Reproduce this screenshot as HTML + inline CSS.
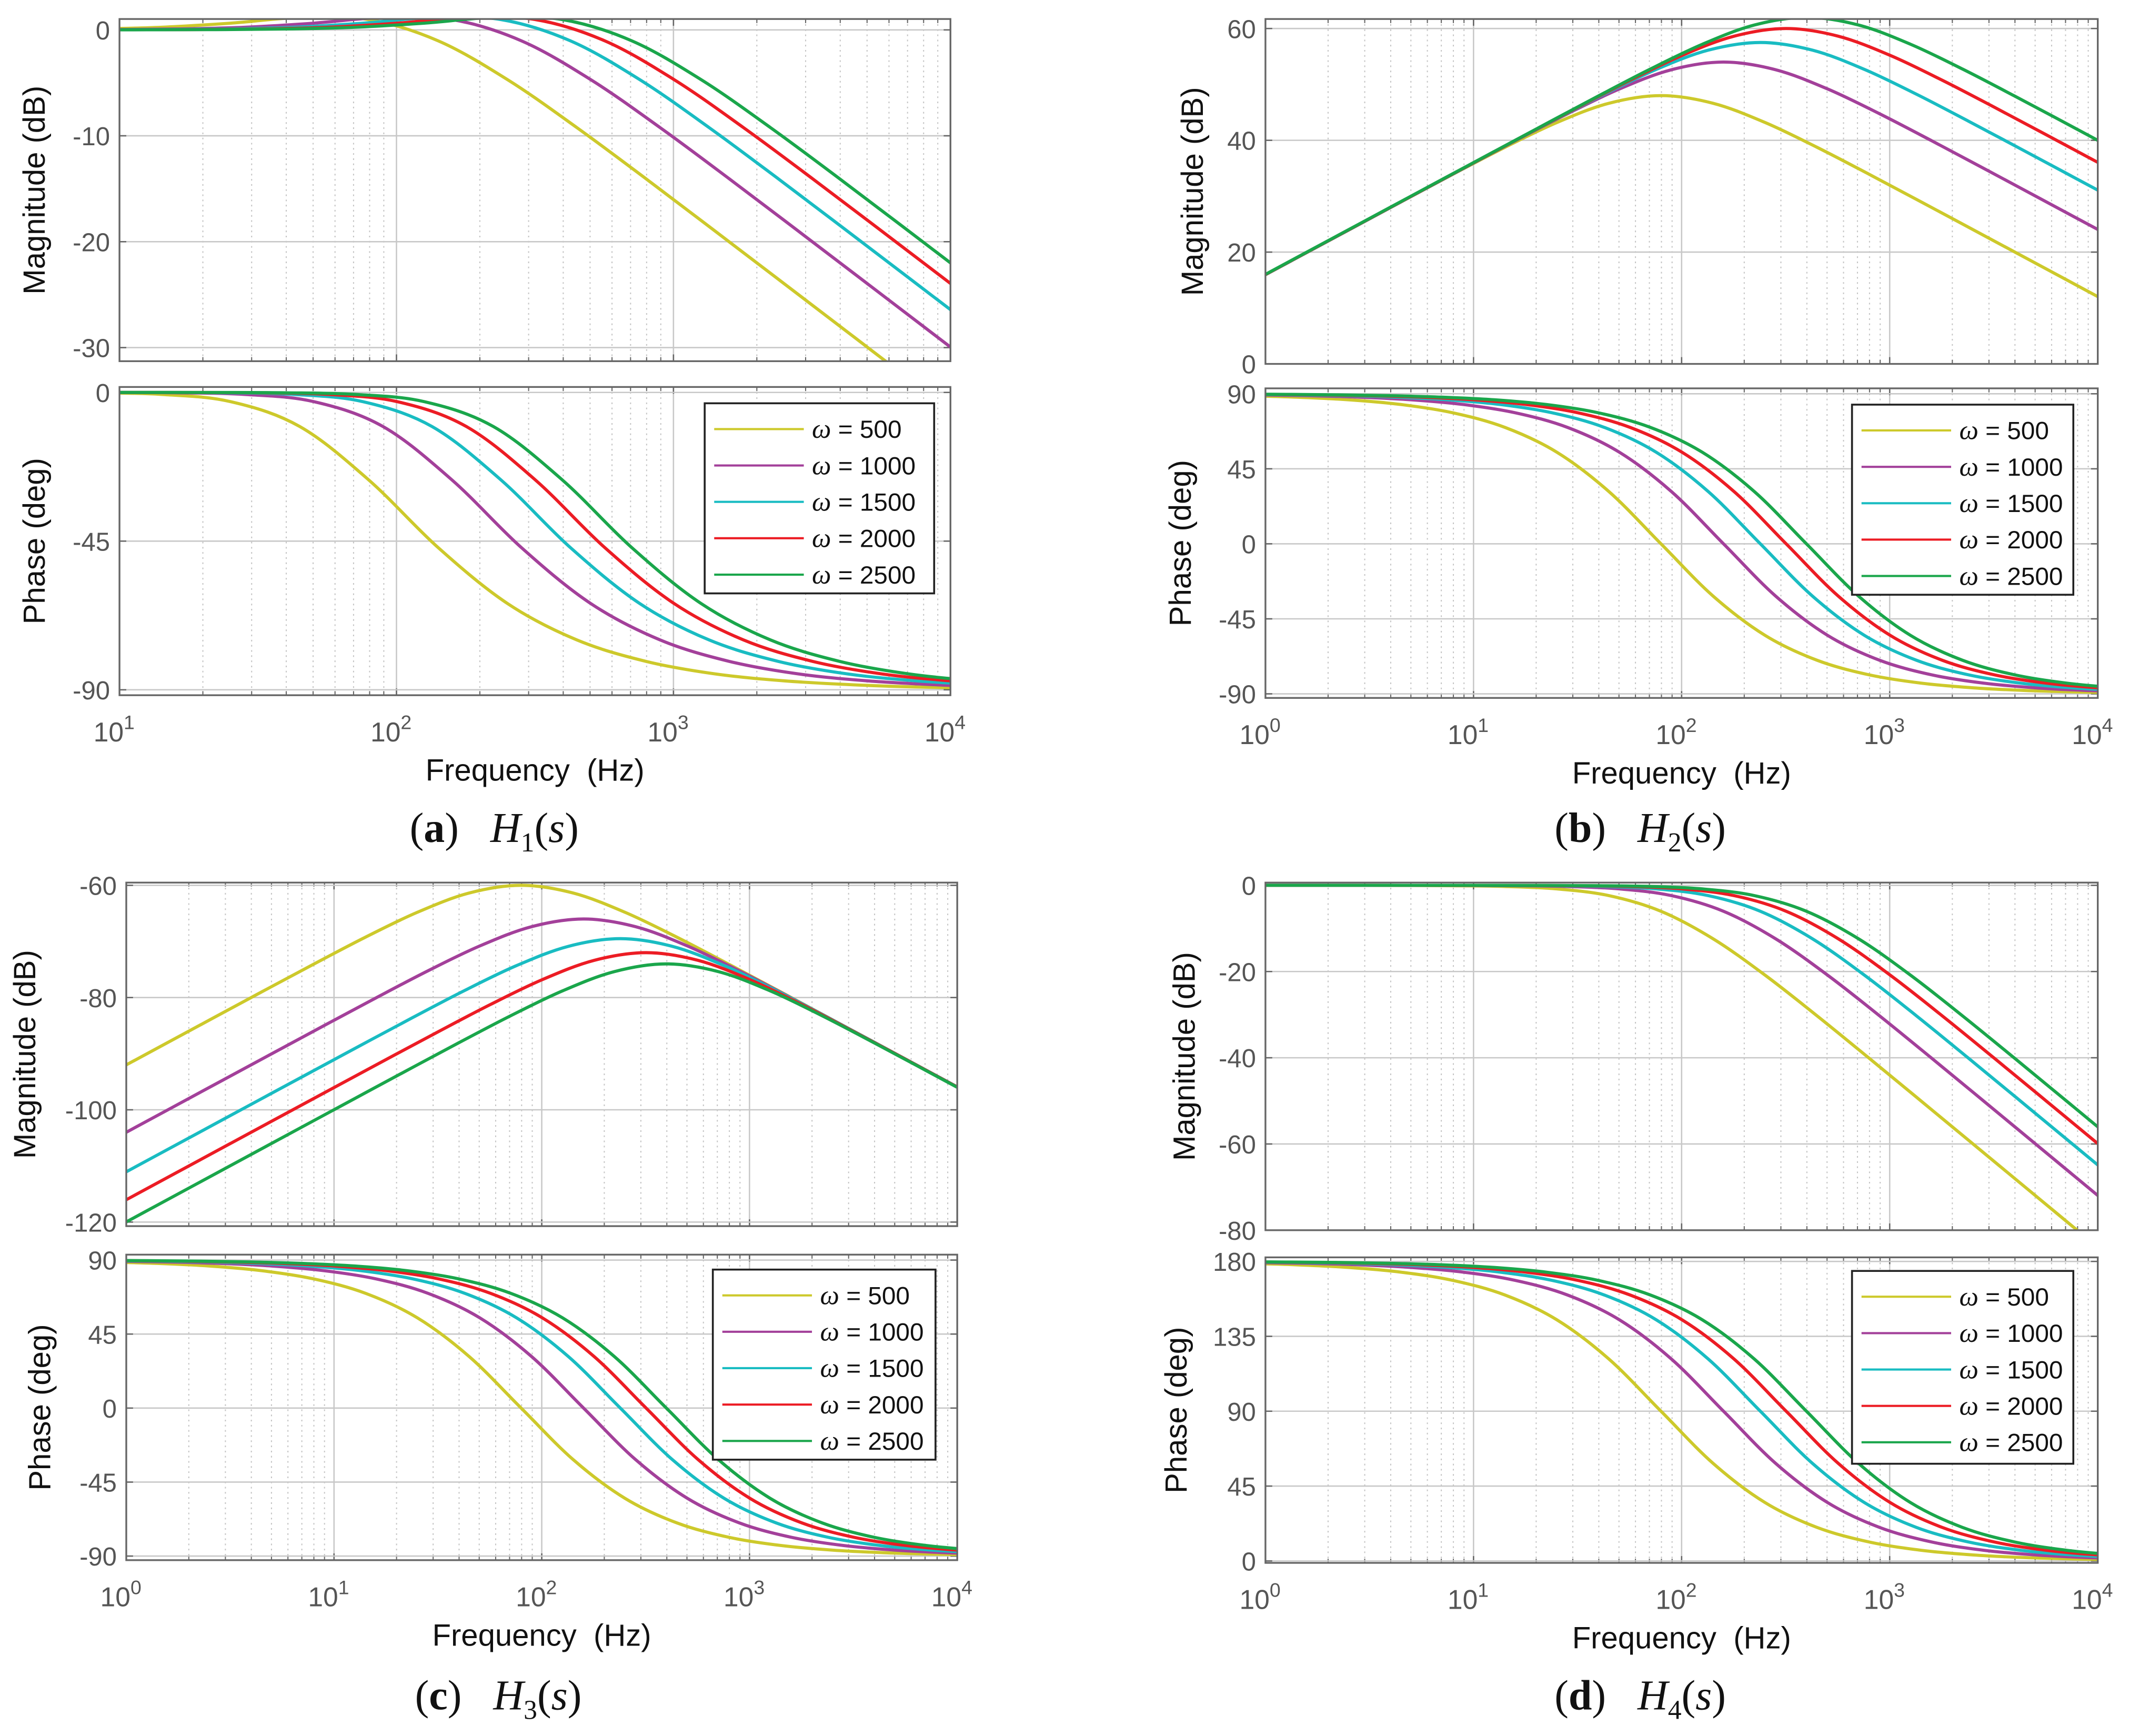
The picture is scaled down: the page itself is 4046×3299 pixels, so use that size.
<!DOCTYPE html>
<html><head><meta charset="utf-8"><style>
html,body{margin:0;padding:0;background:#fff;}
svg{display:block;}
text{font-family:"Liberation Sans",sans-serif;}
</style></head><body>
<svg id="fig" xmlns="http://www.w3.org/2000/svg" width="4046" height="3299" viewBox="0 0 1568 1278.5"></svg>
<script>
// ---- data ----
const omegaLabels = ["500","1000","1500","2000","2500"];
const seriesColors = ["#cdc92b","#a3409a","#19bcc2","#ec1c24","#1aa64b"];
// corner / peak frequency (Hz) of each series
const centerHz = [79.6, 159, 239, 318, 398];
// sample grid: decades relative to the corner frequency
const ratioDecades = [-2.75,-2.5,-2.25,-2,-1.75,-1.5,-1.25,-1,-0.75,-0.5,-0.25,0,0.25,0.5,0.75,1,1.25,1.5,1.75,2,2.25];
// (a) H1
const magA = [0,0,0,0.001,0.003,0.009,0.027,0.084,0.248,0.633,1.165,0.969,-1.04,-4.70,-9.22,-14.06,-19.01,-23.99,-28.98,-33.98,-38.98];
const phaseA = [0,0,0,0,0,0,-0.02,-0.11,-0.60,-2.79,-10.33,-26.57,-47.0,-63.9,-74.9,-81.4,-85.2,-87.3,-88.5,-89.2,-89.5];
// (b),(c) band-pass shape relative to the peak
const bandShape = [-48.98,-43.98,-38.98,-33.98,-28.98,-23.99,-19.01,-14.07,-9.25,-4.81,-1.37,0,-1.37,-4.81,-9.25,-14.07,-19.01,-23.99,-28.98,-33.98,-38.98];
const peakB = [48.0, 54.0, 57.5, 60.0, 62.0];
const peakC = [-60.0, -66.0, -69.5, -72.0, -74.0];
const phaseBC = [89.80,89.64,89.36,88.85,87.96,86.38,83.56,78.58,69.83,54.9,31.3,0,-31.3,-54.9,-69.83,-78.58,-83.56,-86.38,-87.96,-88.85,-89.36];
// (d) H4
const magD = [0,0,0,-0.001,-0.003,-0.009,-0.027,-0.086,-0.27,-0.83,-2.39,-6.02,-12.39,-20.83,-30.27,-40.09,-50.03,-60.01,-70.0,-80.0,-90.0];
const phaseD = [179.80,179.64,179.36,178.85,177.96,176.38,173.56,168.58,159.83,144.9,121.3,90,58.7,35.1,20.17,11.42,6.44,3.62,2.04,1.15,0.64];
// tick labels
const ticksMagA = [0,-10,-20,-30], ticksPhA = [0,-45,-90];
const ticksMagB = [0,20,40,60], ticksPhB = [90,45,0,-45,-90];
const ticksMagC = [-60,-80,-100,-120], ticksPhC = [90,45,0,-45,-90];
const ticksMagD = [0,-20,-40,-60,-80], ticksPhD = [180,135,90,45,0];

// ---- drawing ----
const NS = "http://www.w3.org/2000/svg";
const svg = document.getElementById("fig");
let clipId = 0;
function el(tag, attrs, parent){
  const e = document.createElementNS(NS, tag);
  for (const k in attrs) e.setAttribute(k, attrs[k]);
  (parent||svg).appendChild(e);
  return e;
}
function pathFrom(pts){
  let d = "M"+pts[0][0].toFixed(2)+","+pts[0][1].toFixed(2);
  for (let i=0;i<pts.length-1;i++){
    const p0=pts[Math.max(0,i-1)], p1=pts[i], p2=pts[i+1], p3=pts[Math.min(pts.length-1,i+2)];
    const c1=[p1[0]+(p2[0]-p0[0])/6, p1[1]+(p2[1]-p0[1])/6];
    const c2=[p2[0]-(p3[0]-p1[0])/6, p2[1]-(p3[1]-p1[1])/6];
    d += " C"+c1[0].toFixed(2)+","+c1[1].toFixed(2)+" "+c2[0].toFixed(2)+","+c2[1].toFixed(2)+" "+p2[0].toFixed(2)+","+p2[1].toFixed(2);
  }
  return d;
}
function drawAxes(cfg, name){
  const g = el("g", {});
  
  
  const X = l => cfg.x0 + (l - cfg.lmin) / (cfg.lmax - cfg.lmin) * (cfg.x1 - cfg.x0);
  const Y = v => cfg.ya + (v - cfg.va) / (cfg.vb - cfg.va) * (cfg.yb - cfg.ya);
  for (let d = cfg.lmin; d < cfg.lmax; d++){
    for (let m = 2; m <= 9; m++){
      const x = X(d + Math.log10(m));
      el("line",{x1:x,x2:x,y1:cfg.top,y2:cfg.bot,stroke:"#c4c4c4","stroke-width":0.8,"stroke-dasharray":"1.2 2.6"},g);
      el("line",{x1:x,x2:x,y1:cfg.bot,y2:cfg.bot-3,stroke:"#666","stroke-width":0.8},g);
      el("line",{x1:x,x2:x,y1:cfg.top,y2:cfg.top+3,stroke:"#666","stroke-width":0.8},g);
    }
  }
  for (let d = cfg.lmin+1; d < cfg.lmax; d++){
    const x = X(d);
    el("line",{x1:x,x2:x,y1:cfg.top,y2:cfg.bot,stroke:"#c8c8c8","stroke-width":1},g);
    el("line",{x1:x,x2:x,y1:cfg.bot,y2:cfg.bot-5,stroke:"#666","stroke-width":1},g);
    el("line",{x1:x,x2:x,y1:cfg.top,y2:cfg.top+5,stroke:"#666","stroke-width":1},g);
  }
  cfg.ticks.forEach(t=>{
    const y = Y(t);
    el("line",{x1:cfg.x0,x2:cfg.x1,y1:y,y2:y,stroke:"#c8c8c8","stroke-width":1},g);
    el("line",{x1:cfg.x0,x2:cfg.x0+5,y1:y,y2:y,stroke:"#666","stroke-width":1},g);
    el("line",{x1:cfg.x1,x2:cfg.x1-5,y1:y,y2:y,stroke:"#666","stroke-width":1},g);
    const tl = el("text",{x:cfg.x0-7,y:y+7,"text-anchor":"end","font-size":19,fill:"#555"},g);
    
    
    tl.textContent = String(t);
  });
  const cid = "clip"+(clipId++);
  const cp = el("clipPath",{id:cid},g);
  el("rect",{x:cfg.x0,y:cfg.top,width:cfg.x1-cfg.x0,height:cfg.bot-cfg.top},cp);
  const sg = el("g",{"clip-path":"url(#"+cid+")"},g);
  centerHz.forEach((fc,s)=>{
    const lc = Math.log10(fc);
    const pts = ratioDecades.map((r,i)=>[X(r+lc), Y(cfg.shape[i] + (cfg.offsets ? cfg.offsets[s] : 0))]);
    const p = el("path",{d:pathFrom(pts),fill:"none",stroke:seriesColors[s],"stroke-width":2.3,"stroke-linejoin":"round"},sg);
    
    
  });
  const fr = el("rect",{x:cfg.x0,y:cfg.top,width:cfg.x1-cfg.x0,height:cfg.bot-cfg.top,fill:"none",stroke:"#666","stroke-width":1.3},g);
  
  
  const yc = (cfg.top+cfg.bot)/2;
  const yl = el("text",{x:cfg.ylabelX,y:yc,"text-anchor":"middle","font-size":22.5,fill:"#111",transform:"rotate(-90 "+cfg.ylabelX+" "+yc+")"},g);
  
  
  yl.textContent = cfg.ylabel;
  if (cfg.xlabels){
    for (let d = cfg.lmin; d <= cfg.lmax; d++){
      const x = X(d);
      const t = el("text",{x:x-4,y:cfg.bot+34,"text-anchor":"middle","font-size":20,fill:"#555"},g);
      
      
      t.textContent = "10";
      const sup = el("tspan",{dy:-9,"font-size":14.5},t);
      sup.textContent = String(d);
    }
    const ft = el("text",{x:(cfg.x0+cfg.x1)/2,y:cfg.bot+63,"text-anchor":"middle","font-size":22.5,fill:"#111"},g);
    
    
    ft.textContent = "Frequency\u00a0\u00a0(Hz)";
  }
  if (cfg.legend){
    const L = cfg.legend;
    const lg = el("g",{},g);
    
    
    el("rect",{x:L.x,y:L.y,width:L.w,height:L.h,fill:"#fff",stroke:"#222","stroke-width":1.4},lg);
    omegaLabels.forEach((lab,s)=>{
      const ry = L.y + 19 + s*26.8;
      const le = el("g",{},lg);
      
      
      el("line",{x1:L.x+7,x2:L.x+73,y1:ry,y2:ry,stroke:seriesColors[s],"stroke-width":1.6},le);
      const tx = el("text",{x:L.x+79,y:ry+6.5,"font-size":18.5,fill:"#111"},le);
      const om = el("tspan",{"font-style":"italic","font-family":"Liberation Serif, serif","font-size":20},tx);
      om.textContent = "ω";
      const rest = el("tspan",{},tx);
      rest.textContent = " = " + lab;
    });
  }
}
function caption(x, y, letter, idx, name){
  const t = el("text",{x:x,y:y,"text-anchor":"middle","font-size":31,fill:"#111"});
  
  
  t.style.fontFamily = '"Liberation Serif", serif';
  const a = el("tspan",{},t); a.textContent = "(";
  const b = el("tspan",{"font-weight":"bold"},t); b.textContent = letter;
  const c = el("tspan",{},t); c.textContent = ")\u00a0\u00a0\u00a0";
  const h = el("tspan",{"font-style":"italic"},t); h.textContent = "H";
  const sub = el("tspan",{"font-size":20,dy:7},t); sub.textContent = idx;
  const p = el("tspan",{dy:-7},t); p.textContent = "(";
  const s = el("tspan",{"font-style":"italic"},t); s.textContent = "s";
  const q = el("tspan",{},t); q.textContent = ")";
}

drawAxes({x0:88,x1:700,lmin:1,lmax:4,top:14,bot:266,va:0,ya:22,vb:-30,yb:256,ticks:ticksMagA,shape:magA,ylabel:"Magnitude (dB)",ylabelX:33},"panel-a-magnitude");
drawAxes({x0:88,x1:700,lmin:1,lmax:4,top:285,bot:512,va:0,ya:289,vb:-90,yb:508,ticks:ticksPhA,shape:phaseA,ylabel:"Phase (deg)",ylabelX:33,xlabels:true,legend:{x:519,y:297,w:169,h:140}},"panel-a-phase");
caption(364,620,"a","1","caption-a");
drawAxes({x0:932,x1:1545,lmin:0,lmax:4,top:14,bot:268,va:60,ya:21,vb:0,yb:268,ticks:ticksMagB,shape:bandShape,offsets:peakB,ylabel:"Magnitude (dB)",ylabelX:886},"panel-b-magnitude");
drawAxes({x0:932,x1:1545,lmin:0,lmax:4,top:286,bot:514,va:90,ya:290,vb:-90,yb:511,ticks:ticksPhB,shape:phaseBC,ylabel:"Phase (deg)",ylabelX:877,xlabels:true,legend:{x:1364,y:298,w:163,h:140}},"panel-b-phase");
caption(1208,620,"b","2","caption-b");
drawAxes({x0:93,x1:705,lmin:0,lmax:4,top:650,bot:903,va:-60,ya:652,vb:-120,yb:900,ticks:ticksMagC,shape:bandShape,offsets:peakC,ylabel:"Magnitude (dB)",ylabelX:26},"panel-c-magnitude");
drawAxes({x0:93,x1:705,lmin:0,lmax:4,top:924,bot:1149,va:90,ya:928,vb:-90,yb:1146,ticks:ticksPhC,shape:phaseBC,ylabel:"Phase (deg)",ylabelX:37,xlabels:true,legend:{x:525,y:935,w:164,h:140}},"panel-c-phase");
caption(367,1259,"c","3","caption-c");
drawAxes({x0:932,x1:1545,lmin:0,lmax:4,top:650,bot:906,va:0,ya:652,vb:-80,yb:906,ticks:ticksMagD,shape:magD,ylabel:"Magnitude (dB)",ylabelX:880},"panel-d-magnitude");
drawAxes({x0:932,x1:1545,lmin:0,lmax:4,top:926,bot:1151,va:180,ya:929,vb:0,yb:1149.6,ticks:ticksPhD,shape:phaseD,ylabel:"Phase (deg)",ylabelX:874,xlabels:true,legend:{x:1364,y:936,w:163,h:142}},"panel-d-phase");
caption(1208,1259,"d","4","caption-d");
</script>
</body></html>
